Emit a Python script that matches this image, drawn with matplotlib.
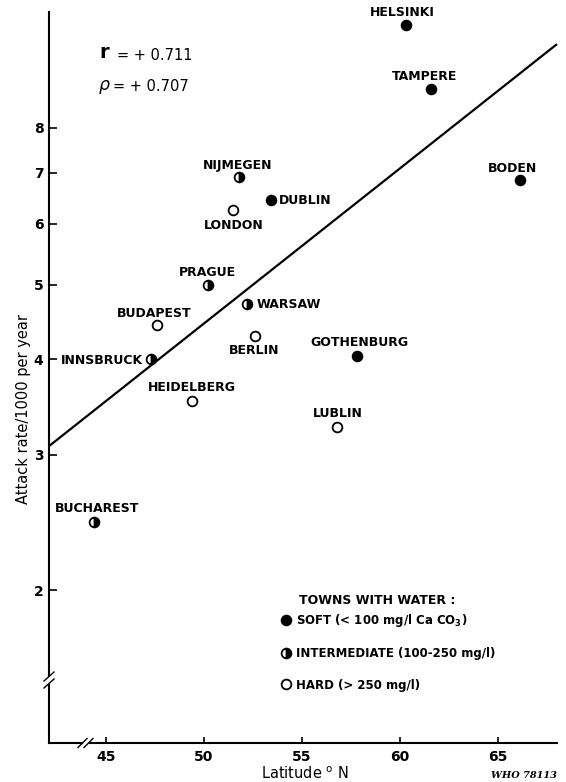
import matplotlib
matplotlib.use('Agg')
import matplotlib.pyplot as plt
from matplotlib.lines import Line2D
from matplotlib.ticker import NullLocator

# ---------------- data ----------------
towns = ['HELSINKI', 'TAMPERE', 'BODEN', 'NIJMEGEN', 'DUBLIN', 'LONDON',
         'PRAGUE', 'WARSAW', 'BUDAPEST', 'BERLIN', 'INNSBRUCK', 'HEIDELBERG',
         'BUCHAREST', 'GOTHENBURG', 'LUBLIN']
latitude = [60.3, 61.6, 66.1, 51.8, 53.4, 51.5,
            50.2, 52.2, 47.6, 52.6, 47.3, 49.4,
            44.4, 57.8, 56.8]
attack_rate = [10.9, 9.0, 6.85, 6.9, 6.45, 6.25,
               5.0, 4.72, 4.43, 4.28, 4.0, 3.53,
               2.45, 4.04, 3.26]
water = ['soft', 'soft', 'soft', 'intermediate', 'soft', 'hard',
         'intermediate', 'intermediate', 'hard', 'hard', 'intermediate', 'hard',
         'intermediate', 'soft', 'hard']

fit_lat = [42.1, 68.0]
fit_rate = [3.08, 10.29]

x_ticks = [45, 50, 55, 60, 65]
y_ticks = [2, 3, 4, 5, 6, 7, 8]

legend_labels = {
    'soft': r'SOFT (< 100 mg/l Ca CO$_{\mathbf{3}}$)',
    'intermediate': 'INTERMEDIATE (100-250 mg/l)',
    'hard': 'HARD (> 250 mg/l)',
}

# ---------------- layout (label offsets in px: dx, dy(up), ha) ----------------
label_layout = {
    'HELSINKI': (-3.7, 13, 'center'), 'TAMPERE': (-6.7, 13, 'center'),
    'BODEN': (-7.7, 12.3, 'center'), 'NIJMEGEN': (-1.7, 12.3, 'center'),
    'DUBLIN': (8.3, 0, 'left'), 'LONDON': (0, -14, 'center'),
    'PRAGUE': (0, 13.3, 'center'), 'WARSAW': (10, 0, 'left'),
    'BUDAPEST': (-3, 12.3, 'center'), 'BERLIN': (-0.7, -13.3, 'center'),
    'INNSBRUCK': (-8.3, 0, 'right'), 'HEIDELBERG': (0, 13.7, 'center'),
    'BUCHAREST': (2.7, 14.7, 'center'), 'GOTHENBURG': (2, 14.7, 'center'),
    'LUBLIN': (0, 14.7, 'center'),
}

W, H = 566, 782
DPI = 100
PT = 72.0 / DPI

plt.rcParams['font.family'] = ['DejaVu Sans']
fig = plt.figure(figsize=(W / DPI, H / DPI), dpi=DPI)
ax_l, ax_r, ax_t, ax_b = 49, 557, 12, 743
ax = fig.add_axes([ax_l / W, 1 - ax_b / H, (ax_r - ax_l) / W, (ax_b - ax_t) / H])

ax.set_yscale('log')
ax.set_xlim(42.1, 68.0)
ax.set_ylim(1.264, 11.33)

for s in ['top', 'right']:
    ax.spines[s].set_visible(False)
for s in ['left', 'bottom']:
    ax.spines[s].set_linewidth(1.5)

ax.set_xticks(x_ticks, labels=[str(v) for v in x_ticks])
ax.set_yticks(y_ticks, labels=[str(v) for v in y_ticks])
ax.yaxis.set_minor_locator(NullLocator())
ax.xaxis.set_minor_locator(NullLocator())
ax.tick_params(axis='y', direction='in', length=5.5, width=1.2, pad=4,
               labelsize=10)
ax.tick_params(axis='x', direction='in', length=4, width=1.2, pad=5,
               labelsize=10)
for lab in ax.get_xticklabels() + ax.get_yticklabels():
    lab.set_fontweight('bold')

# regression line
ax.plot(fit_lat, fit_rate, color='black', lw=1.6, solid_capstyle='butt',
        zorder=2, clip_on=False)

style = {
    'soft': dict(marker='o', markerfacecolor='black', markeredgecolor='black',
                 fillstyle='full'),
    'intermediate': dict(marker='o', markerfacecolor='black',
                         markerfacecoloralt='white', markeredgecolor='black',
                         fillstyle='right'),
    'hard': dict(marker='o', markerfacecolor='white', markeredgecolor='black',
                 fillstyle='full'),
}
MS, MEW = 7.0, 1.3

for t, la, ar, w in zip(towns, latitude, attack_rate, water):
    ax.plot([la], [ar], linestyle='none', markersize=MS, markeredgewidth=MEW,
            zorder=4, **style[w])
    dx, dy, ha = label_layout[t]
    ax.annotate(t, (la, ar), xytext=(dx * PT, (dy - 4.5) * PT),
                textcoords='offset points', ha=ha, va='baseline',
                fontsize=9, fontweight='bold', zorder=5)

# axis breaks (drawn in axes coordinates)
def ax_frac(px_x, px_y):
    return ((px_x - ax_l) / (ax_r - ax_l), (ax_b - px_y) / (ax_b - ax_t))

# y-axis break
g0 = ax_frac(ax_l, 676.5)
g1 = ax_frac(ax_l, 683.5)
ax.plot([g0[0], g1[0]], [g0[1], g1[1]], transform=ax.transAxes, color='white',
        lw=4, clip_on=False, zorder=6, solid_capstyle='butt')
for yc in (676.5, 683.5):
    a = ax_frac(ax_l - 5, yc + 4.5)
    b = ax_frac(ax_l + 5, yc - 4.5)
    ax.plot([a[0], b[0]], [a[1], b[1]], transform=ax.transAxes, color='black',
            lw=1.0, clip_on=False, zorder=7)
# x-axis break
g0 = ax_frac(82.5, ax_b)
g1 = ax_frac(88.5, ax_b)
ax.plot([g0[0], g1[0]], [g0[1], g1[1]], transform=ax.transAxes, color='white',
        lw=4, clip_on=False, zorder=6, solid_capstyle='butt')
for xc in (82.5, 88.5):
    a = ax_frac(xc - 4.5, ax_b + 4.5)
    b = ax_frac(xc + 4.5, ax_b - 4.5)
    ax.plot([a[0], b[0]], [a[1], b[1]], transform=ax.transAxes, color='black',
            lw=1.0, clip_on=False, zorder=7)

# legend
handles = [Line2D([], [], linestyle='none', markersize=MS, markeredgewidth=MEW,
                  **style[k]) for k in ['soft', 'intermediate', 'hard']]
labels = [legend_labels[k] for k in ['soft', 'intermediate', 'hard']]
leg = fig.legend(handles, labels, loc='upper left',
                 bbox_to_anchor=(280 / W, 1 - 612 / H), frameon=False,
                 borderpad=0, borderaxespad=0, handlelength=1.0,
                 handletextpad=0.35, labelspacing=1.55,
                 prop={'size': 8.5, 'weight': 'bold'})

def px(x, y):
    return x / W, 1 - y / H

fig.text(*px(299, 604), 'TOWNS WITH WATER :', fontsize=9, fontweight='bold',
         ha='left', va='baseline')

# correlation text
fig.text(*px(99, 58.5), r'$\mathbf{r}$', fontsize=14, ha='left', va='baseline')
fig.text(*px(117, 60), '= + 0.711', fontsize=10.5, ha='left', va='baseline')
fig.text(*px(98, 90), r'$\rho$', fontsize=12.5, ha='left', va='baseline')
fig.text(*px(113, 91), '= + 0.707', fontsize=10.5, ha='left', va='baseline')

# axis labels
fig.text(*px(24, 409), 'Attack rate/1000 per year', rotation=90,
         fontsize=10.5, ha='center', va='center')
fig.text(*px(305, 779), r'Latitude $^{\mathrm{o}}$ N', fontsize=10.5,
         ha='center', va='baseline')
fig.text(*px(557, 778), 'WHO 78113', fontsize=7, fontweight='bold',
         fontstyle='italic', family='DejaVu Serif', ha='right', va='baseline')

fig.savefig('out.png', dpi=DPI)
